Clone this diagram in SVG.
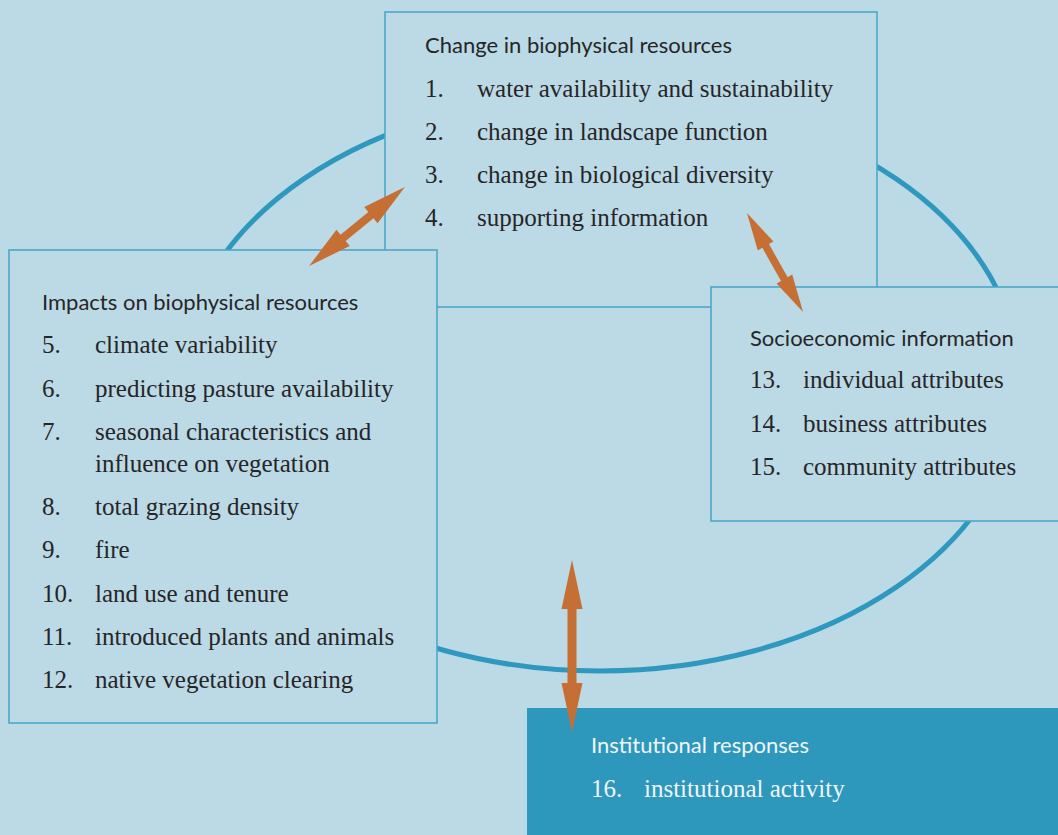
<svg xmlns="http://www.w3.org/2000/svg" width="1058" height="835" viewBox="0 0 1058 835">
<style>
.bg{fill:#BCD9E6}
.box{fill:#BCD9E6;stroke:#4AA7CA;stroke-width:1.6}
.dark{fill:#2E97BC}
.ring{fill:none;stroke:#2E98BE;stroke-width:5}
.arrow{fill:#C56F35}
.h{font-family:Lato,"Open Sans",sans-serif;font-size:22px;fill:#262626}
.t{font-family:"Liberation Serif","Times New Roman",serif;font-size:25px;fill:#262626}
.hw{font-family:Lato,"Open Sans",sans-serif;font-size:22px;fill:#EEF6FA}
.tw{font-family:"Liberation Serif","Times New Roman",serif;font-size:25px;fill:#EEF6FA}
</style>
<rect class="bg" x="0" y="0" width="1058" height="835"/>
<g id="cycle">
<ellipse class="ring" cx="600" cy="383" rx="420" ry="288"/>
</g>
<g id="change">
<rect class="box" x="385" y="12" width="492" height="295"/>
<text class="h" x="425" y="53">Change in biophysical resources</text>
<text class="t" x="425" y="97">1.</text><text class="t" x="477" y="97">water availability and sustainability</text>
<text class="t" x="425" y="140">2.</text><text class="t" x="477" y="140">change in landscape function</text>
<text class="t" x="425" y="183">3.</text><text class="t" x="477" y="183">change in biological diversity</text>
<text class="t" x="425" y="226">4.</text><text class="t" x="477" y="226">supporting information</text>
</g>
<g id="impacts">
<rect class="box" x="9" y="250" width="428" height="473"/>
<text class="h" x="42" y="310">Impacts on biophysical resources</text>
<text class="t" x="42" y="353">5.</text><text class="t" x="95" y="353">climate variability</text>
<text class="t" x="42" y="397">6.</text><text class="t" x="95" y="397">predicting pasture availability</text>
<text class="t" x="42" y="440">7.</text><text class="t" x="95" y="440">seasonal characteristics and</text>
<text class="t" x="95" y="472">influence on vegetation</text>
<text class="t" x="42" y="515">8.</text><text class="t" x="95" y="515">total grazing density</text>
<text class="t" x="42" y="558">9.</text><text class="t" x="95" y="558">fire</text>
<text class="t" x="42" y="602">10.</text><text class="t" x="95" y="602">land use and tenure</text>
<text class="t" x="42" y="645">11.</text><text class="t" x="95" y="645">introduced plants and animals</text>
<text class="t" x="42" y="688">12.</text><text class="t" x="95" y="688">native vegetation clearing</text>
</g>
<g id="socio">
<rect class="box" x="711" y="287" width="360" height="234"/>
<text class="h" x="750" y="346">Socioeconomic information</text>
<text class="t" x="750" y="388">13.</text><text class="t" x="803" y="388">individual attributes</text>
<text class="t" x="750" y="432">14.</text><text class="t" x="803" y="432">business attributes</text>
<text class="t" x="750" y="475">15.</text><text class="t" x="803" y="475">community attributes</text>
</g>
<g id="institutional">
<rect class="dark" x="527" y="708" width="540" height="140"/>
<text class="hw" x="591" y="753">Institutional responses</text>
<text class="tw" x="591" y="797">16.</text><text class="tw" x="644" y="797">institutional activity</text>
</g>
<g id="connectors">
<polygon class="arrow" transform="translate(357,226.5) rotate(-39.45)" points="-62,0 -18,-10.5 -18,-4 18,-4 18,-10.5 62,0 18,10.5 18,4 -18,4 -18,10.5"/>
<polygon class="arrow" transform="translate(775,262.5) rotate(60.5)" points="-57,0 -19,-9 -19,-3.8 19,-3.8 19,-9 57,0 19,9 19,3.8 -19,3.8 -19,9"/>
<polygon class="arrow" transform="translate(572,646) rotate(90)" points="-86,0 -37,-10.5 -37,-4.5 37,-4.5 37,-10.5 86,0 37,10.5 37,4.5 -37,4.5 -37,10.5"/>
</g>
</svg>
